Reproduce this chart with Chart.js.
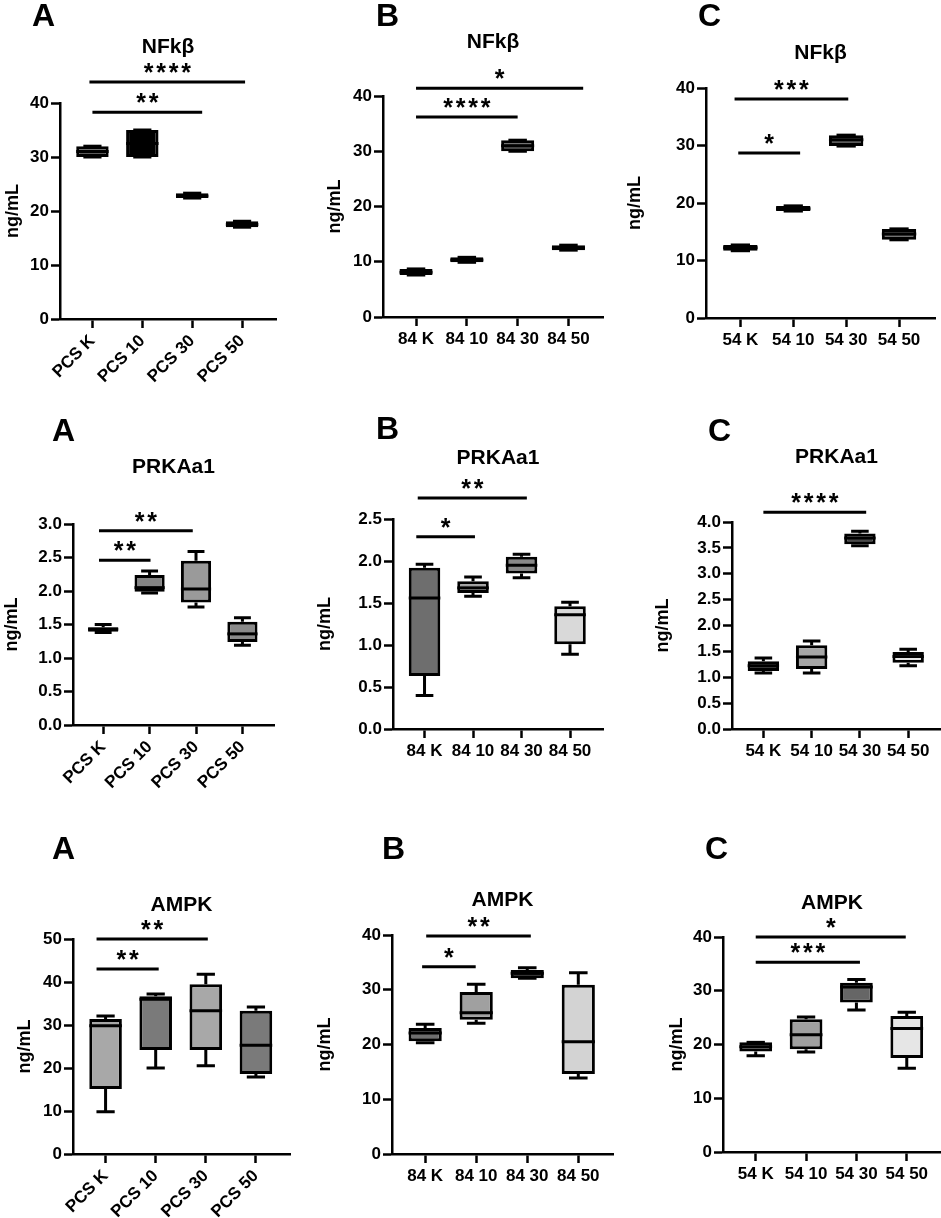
<!DOCTYPE html>
<html>
<head>
<meta charset="utf-8">
<script src="https://cdn.jsdelivr.net/npm/chart.js"></script>
<style>
  body { margin: 0; background: #fff; }
  #figure { position: relative; width: 941px; height: 1218px; overflow: hidden; background: #fff; }
  #figure canvas { position: absolute; }
</style>
</head>
<body>
<div id="figure"></div>
<script>
// group names on the x axis
const pcsLabels = ['PCS K', 'PCS 10', 'PCS 30', 'PCS 50'];
const labels84 = ['84 K', '84 10', '84 30', '84 50'];
const labels54 = ['54 K', '54 10', '54 30', '54 50'];

// box stats per group: [min, q1, median, q3, max]  (ng/mL)
const nfkbPcs = [[30.0, 30.0, 31.0, 32.0, 32.0], [30.0, 30.0, 32.5, 35.0, 35.0], [22.4, 22.4, 22.8, 23.3, 23.3], [17.0, 17.0, 17.5, 18.1, 18.1]];
const nfkb84 = [[7.6, 7.6, 8.1, 8.7, 8.7], [9.9, 9.9, 10.3, 10.8, 10.8], [30.0, 30.0, 31.0, 32.0, 32.0], [12.1, 12.1, 12.5, 13.0, 13.0]];
const nfkb54 = [[11.7, 11.7, 12.2, 12.7, 12.7], [18.6, 18.6, 19.0, 19.5, 19.5], [29.9, 29.9, 31.0, 31.8, 31.8], [13.6, 13.6, 14.6, 15.5, 15.5]];

const prkPcs = [[1.38, 1.39, 1.43, 1.46, 1.50], [1.97, 1.99, 2.05, 2.24, 2.30], [1.76, 1.83, 2.03, 2.45, 2.59], [1.19, 1.24, 1.36, 1.54, 1.60]];
const prk84 = [[0.40, 0.63, 1.56, 1.92, 1.96], [1.58, 1.62, 1.68, 1.76, 1.81], [1.80, 1.85, 1.95, 2.05, 2.08], [0.89, 1.01, 1.36, 1.46, 1.51]];
const prk54 = [[1.08, 1.12, 1.22, 1.31, 1.37], [1.08, 1.16, 1.39, 1.62, 1.70], [3.54, 3.57, 3.69, 3.78, 3.82], [1.22, 1.28, 1.40, 1.49, 1.54]];

const ampkPcs = [[9.8, 15.1, 29.8, 31.4, 32.1], [20.0, 24.2, 36.0, 36.7, 37.2], [20.5, 24.2, 33.3, 39.5, 41.8], [17.9, 18.6, 25.3, 33.3, 34.2]];
const ampk84 = [[20.3, 20.6, 22.1, 23.0, 23.7], [23.9, 24.5, 25.8, 29.6, 31.0], [32.1, 32.1, 33.0, 33.6, 34.0], [13.9, 14.6, 20.5, 30.9, 33.1]];
const ampk54 = [[17.9, 18.7, 19.6, 20.4, 20.4], [18.6, 19.1, 21.8, 24.7, 25.1], [26.4, 27.8, 30.7, 31.5, 32.1], [15.6, 17.5, 23.0, 25.3, 26.0]];

// significance brackets: [from group, to group, level, stars]
const nfkbPcsSig = [[-0.06, 3.06, 43.9, 4], [0, 2.2, 38.3, 2]];
const nfkb84Sig = [[0, 3.29, 41.4, 1], [0, 2.0, 36.2, 4]];
const nfkb54Sig = [[-0.11, 2.04, 38.1, 3], [-0.04, 1.13, 28.7, 1]];
const prkPcsSig = [[-0.09, 1.93, 2.90, 2], [-0.09, 1.02, 2.46, 2]];
const prk84Sig = [[-0.14, 2.11, 2.75, 2], [-0.17, 1.04, 2.29, 1]];
const prk54Sig = [[0, 2.13, 4.19, 4]];
const ampkPcsSig = [[-0.18, 2.04, 50.0, 2], [-0.18, 1.06, 43.0, 2]];
const ampk84Sig = [[0.02, 2.07, 39.8, 2], [-0.06, 0.99, 34.2, 1]];
const ampk54Sig = [[0, 2.98, 40.0, 1], [0, 2.07, 35.3, 3]];

// box fills
const nfkbPcsFill = ['#5a5a5a', '#000', '#111', '#111'];
const nfkb84Fill = ['#111', '#111', '#5a5a5a', '#111'];
const nfkb54Fill = ['#111', '#111', '#5a5a5a', '#5a5a5a'];
const prkPcsFill = ['#5a5a5a', '#858585', '#9a9a9a', '#8a8a8a'];
const prk84Fill = ['#6e6e6e', '#a0a0a0', '#888888', '#d9d9d9'];
const prk54Fill = ['#4a4a4a', '#a6a6a6', '#4a4a4a', '#f2f2f2'];
const ampkPcsFill = ['#a8a8a8', '#7a7a7a', '#a8a8a8', '#7a7a7a'];
const ampk84Fill = ['#6e6e6e', '#a0a0a0', '#1a1a1a', '#d3d3d3'];
const ampk54Fill = ['#666666', '#a0a0a0', '#666666', '#e6e6e6'];

const FONT = "'Liberation Sans', Arial, sans-serif";
Chart.defaults.font.family = FONT;
Chart.defaults.color = '#000';

const LINE_W = 3;

// whiskers, medians, brackets and panel letter
const boxParts = {
    id: 'boxParts',
    beforeDatasetsDraw(chart, args, o) {
        const { ctx } = chart;
        const y = chart.scales.y;
        const bars = chart.getDatasetMeta(0).data;
        ctx.save();
        ctx.strokeStyle = '#000';
        ctx.lineWidth = LINE_W;
        o.stats.forEach((s, i) => {
            const cx = bars[i].x, cap = bars[i].width * 0.28;
            [[s[0], s[1]], [s[4], s[3]]].forEach(([end, edge]) => {
                const ye = y.getPixelForValue(end);
                ctx.beginPath();
                ctx.moveTo(cx, ye);
                ctx.lineTo(cx, y.getPixelForValue(edge));
                ctx.moveTo(cx - cap, ye);
                ctx.lineTo(cx + cap, ye);
                ctx.stroke();
            });
        });
        ctx.restore();
    },
    afterDatasetsDraw(chart, args, o) {
        const { ctx } = chart;
        const { x, y } = chart.scales;
        const bars = chart.getDatasetMeta(0).data;
        ctx.save();
        ctx.strokeStyle = '#000';
        ctx.fillStyle = '#000';
        ctx.lineWidth = LINE_W;
        o.stats.forEach((s, i) => {
            const ym = y.getPixelForValue(s[2]);
            ctx.beginPath();
            ctx.moveTo(bars[i].x - bars[i].width / 2, ym);
            ctx.lineTo(bars[i].x + bars[i].width / 2, ym);
            ctx.stroke();
        });
        ctx.lineWidth = 3;
        ctx.font = 'bold 25px ' + FONT;
        ctx.textAlign = 'center';
        ctx.textBaseline = 'alphabetic';
        o.sigs.forEach(([a, b, level, stars]) => {
            const x0 = x.getPixelForValue(a), x1 = x.getPixelForValue(b);
            const yl = y.getPixelForValue(level);
            ctx.beginPath();
            ctx.moveTo(x0, yl);
            ctx.lineTo(x1, yl);
            ctx.stroke();
            const mid = (x0 + x1) / 2;
            for (let j = 0; j < stars; j++) {
                ctx.fillText('*', mid + (j - (stars - 1) / 2) * 12.5, yl - 1);
            }
        });
        ctx.restore();
    },
    afterDraw(chart, args, o) {
        const { ctx } = chart;
        ctx.save();
        ctx.fillStyle = '#000';
        ctx.font = 'bold 32px ' + FONT;
        ctx.textBaseline = 'alphabetic';
        ctx.fillText(o.letter, o.letterX, o.letterY);
        ctx.restore();
    }
};

const panels = [
    { cell: [0, 0, 310, 400], axis: [60, 276, 103, 319], title: 'NFkβ', titleY: 47, yTitleX: 13, letter: 'A', letterAt: [32, 26], labels: pcsLabels, stats: nfkbPcs, sigs: nfkbPcsSig, fills: nfkbPcsFill, yMax: 40, step: 10, dec: 0, rot: 45 },
    { cell: [310, 0, 310, 400], axis: [383, 603, 96, 317], title: 'NFkβ', titleY: 42, yTitleX: 335, letter: 'B', letterAt: [376, 26], labels: labels84, stats: nfkb84, sigs: nfkb84Sig, fills: nfkb84Fill, yMax: 40, step: 10, dec: 0, rot: 0 },
    { cell: [620, 0, 321, 400], axis: [706, 935, 88, 318], title: 'NFkβ', titleY: 53, yTitleX: 635, letter: 'C', letterAt: [698, 26], labels: labels54, stats: nfkb54, sigs: nfkb54Sig, fills: nfkb54Fill, yMax: 40, step: 10, dec: 0, rot: 0 },
    { cell: [0, 400, 310, 410], axis: [73, 274, 524, 725], title: 'PRKAa1', titleY: 467, yTitleX: 12, letter: 'A', letterAt: [52, 441], labels: pcsLabels, stats: prkPcs, sigs: prkPcsSig, fills: prkPcsFill, yMax: 3, step: 0.5, dec: 1, rot: 45 },
    { cell: [310, 400, 310, 410], axis: [393, 603, 519, 729], title: 'PRKAa1', titleY: 458, yTitleX: 325, letter: 'B', letterAt: [376, 439], labels: labels84, stats: prk84, sigs: prk84Sig, fills: prk84Fill, yMax: 2.5, step: 0.5, dec: 1, rot: 0 },
    { cell: [620, 400, 321, 410], axis: [732, 941, 522, 729], title: 'PRKAa1', titleY: 457, yTitleX: 663, letter: 'C', letterAt: [708, 441], labels: labels54, stats: prk54, sigs: prk54Sig, fills: prk54Fill, yMax: 4, step: 0.5, dec: 1, rot: 0 },
    { cell: [0, 810, 310, 408], axis: [73, 290, 939, 1154], title: 'AMPK', titleY: 905, yTitleX: 25, letter: 'A', letterAt: [52, 859], labels: pcsLabels, stats: ampkPcs, sigs: ampkPcsSig, fills: ampkPcsFill, yMax: 50, step: 10, dec: 0, rot: 45 },
    { cell: [310, 810, 310, 408], axis: [392, 613, 935, 1154], title: 'AMPK', titleY: 900, yTitleX: 325, letter: 'B', letterAt: [382, 859], labels: labels84, stats: ampk84, sigs: ampk84Sig, fills: ampk84Fill, yMax: 40, step: 10, dec: 0, rot: 0 },
    { cell: [620, 810, 321, 408], axis: [723, 941, 937, 1152], title: 'AMPK', titleY: 903, yTitleX: 677, letter: 'C', letterAt: [705, 859], labels: labels54, stats: ampk54, sigs: ampk54Sig, fills: ampk54Fill, yMax: 40, step: 10, dec: 0, rot: 0 }
];

const TITLE_SIZE = 21, YTITLE_SIZE = 18, TICK_SIZE = 17;

function makePanel(p) {
    const [cx, cy, cw, ch] = p.cell;
    const [left, right, top, bottom] = p.axis;
    const xAxisH = cy + ch - bottom;   // x axis box runs to the bottom of the cell so labels are not clipped
    const canvas = document.createElement('canvas');
    canvas.width = cw;
    canvas.height = ch;
    canvas.style.left = cx + 'px';
    canvas.style.top = cy + 'px';
    canvas.style.width = cw + 'px';
    canvas.style.height = ch + 'px';
    document.getElementById('figure').appendChild(canvas);

    const titleLh = TITLE_SIZE * 1.2;
    const yTitleLh = YTITLE_SIZE * 1.2;
    const axisStyle = {
        grid: { display: true, drawOnChartArea: false, drawTicks: true, tickLength: 9, tickWidth: 2.5, tickColor: '#000', offset: false },
        border: { display: true, color: '#000', width: 2.5 }
    };

    new Chart(canvas, {
        type: 'bar',
        data: {
            datasets: [{
                data: p.stats.map((s, i) => ({ x: i, y: [s[1], s[3]] })),
                backgroundColor: p.fills,
                borderColor: '#000',
                borderWidth: LINE_W,
                borderSkipped: false,
                barPercentage: 0.65,
                categoryPercentage: 1
            }]
        },
        options: {
            responsive: false,
            animation: false,
            layout: { padding: { left: 0, top: 0, right: cx + cw - right, bottom: 0 } },
            scales: {
                x: {
                    type: 'linear',
                    min: -0.65,
                    max: 3.68,
                    offset: false,
                    ...axisStyle,
                    afterBuildTicks: s => { s.ticks = p.labels.map((_, i) => ({ value: i })); },
                    afterFit: s => { s.height = xAxisH; },
                    ticks: {
                        autoSkip: false,
                        callback: v => p.labels[v],
                        font: { size: TICK_SIZE, weight: 'bold' },
                        color: '#000',
                        padding: 3,
                        minRotation: p.rot,
                        maxRotation: p.rot
                    }
                },
                y: {
                    type: 'linear',
                    min: 0,
                    max: p.yMax,
                    ...axisStyle,
                    afterFit: s => { s.width = left - cx; },
                    ticks: {
                        stepSize: p.step,
                        callback: v => v.toFixed(p.dec),
                        font: { size: TICK_SIZE, weight: 'bold' },
                        color: '#000',
                        padding: 2
                    },
                    title: {
                        display: true,
                        text: 'ng/mL',
                        color: '#000',
                        font: { size: YTITLE_SIZE, weight: 'bold' },
                        padding: { top: Math.max(0, p.yTitleX - cx - yTitleLh / 2), bottom: 0 }
                    }
                }
            },
            plugins: {
                legend: { display: false },
                tooltip: { enabled: false },
                title: {
                    display: true,
                    text: p.title,
                    color: '#000',
                    fullSize: false,
                    font: { size: TITLE_SIZE, weight: 'bold' },
                    padding: { top: p.titleY - cy - titleLh / 2, bottom: top - p.titleY - titleLh / 2 }
                },
                boxParts: {
                    stats: p.stats,
                    sigs: p.sigs,
                    letter: p.letter,
                    letterX: p.letterAt[0] - cx,
                    letterY: p.letterAt[1] - cy
                }
            }
        },
        plugins: [boxParts]
    });
}

panels.forEach(makePanel);
</script>
</body>
</html>
